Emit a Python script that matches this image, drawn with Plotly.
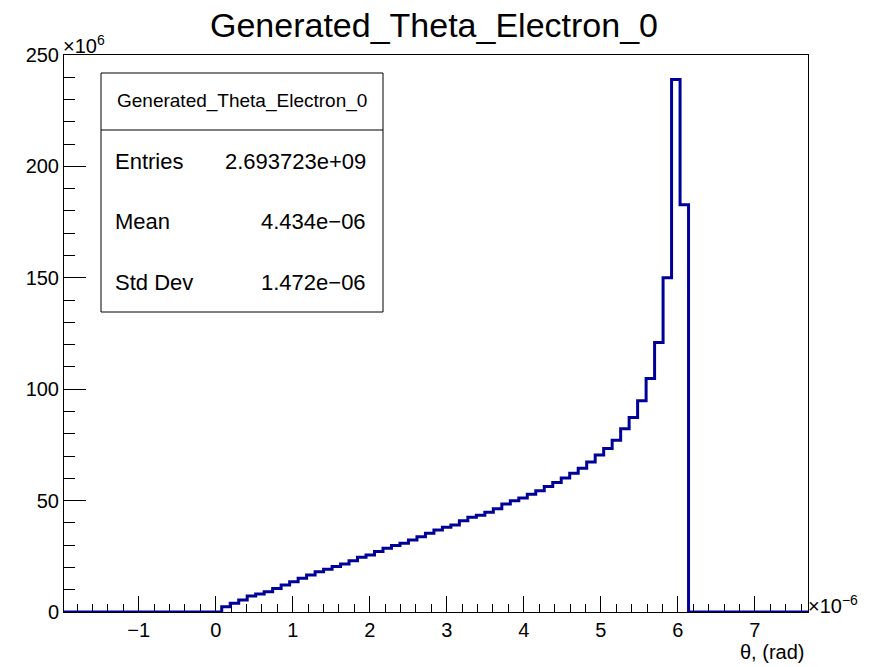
import plotly.graph_objects as go

# ---- data (x in units of 1e-6 rad, counts in units of 1e6) ----
X_RANGE = [-1.97, 7.69]
BIN_LOW = 0.078          # low edge of first filled bin
BIN_WIDTH = 0.1102
COUNTS = [2.4, 3.9, 5.4, 7.2, 8.1, 9.1, 10.6, 12.1, 13.6, 15.1,
          16.6, 18.1, 19.2, 20.4, 21.6, 23.0, 24.6, 25.6, 27.1, 28.6,
          29.8, 30.9, 32.3, 33.8, 35.4, 36.8, 38.0, 39.1, 41.0, 42.5,
          43.4, 44.8, 46.3, 48.5, 49.9, 51.2, 52.9, 54.4, 56.3, 58.1,
          60.1, 62.3, 64.5, 67.3, 70.5, 73.4, 77.1, 82.3, 87.3, 94.8,
          104.8, 121.0, 150.0, 239.0, 182.8]
X_TICKS = [-1, 0, 1, 2, 3, 4, 5, 6, 7]
Y_TICKS = [0, 50, 100, 150, 200, 250]
TITLE = "Generated_Theta_Electron_0"
STATS = [("Entries", "2.693723e+09"), ("Mean", "4.434e\u221206"), ("Std Dev", "1.472e\u221206")]

edges = [BIN_LOW + k * BIN_WIDTH for k in range(len(COUNTS) + 1)]
xs = [X_RANGE[0]] + edges + [X_RANGE[1]]
ys = [0] + COUNTS + [0, 0]

W, H = 875, 667
L, R, T, B = 64, 808, 55, 612
FONT = "Liberation Sans, Arial, Helvetica, sans-serif"


def px(x):
    return (x - L) / (R - L)


def py(y):
    return (B - y) / (B - T)


fig = go.Figure()
fig.add_trace(go.Scatter(x=xs, y=ys, mode="lines", line=dict(color="#000099", width=3, shape="hv"),
                         hoverinfo="skip", showlegend=False))

fig.update_layout(
    width=W, height=H, autosize=False,
    margin=dict(l=L, r=W - R, t=T, b=H - B, pad=0),
    paper_bgcolor="white", plot_bgcolor="white",
    font=dict(family=FONT, size=20, color="black"),
    xaxis=dict(range=X_RANGE, showgrid=False, zeroline=False, showline=True, linecolor="black",
               linewidth=1, mirror=True, ticks="inside", ticklen=16, tickcolor="black",
               tickvals=X_TICKS, ticktext=[str(v).replace("-", "\u2212") for v in X_TICKS],
               minor=dict(dtick=0.2, tick0=0, ticks="inside", ticklen=8, tickcolor="black", showgrid=False),
               tickfont=dict(size=20), layer="below traces"),
    yaxis=dict(range=[0, 250], showgrid=False, zeroline=False, showline=True, linecolor="black",
               linewidth=1, mirror=True, ticks="inside", ticklen=22, tickcolor="black",
               tickvals=Y_TICKS, ticktext=[str(v) for v in Y_TICKS],
               minor=dict(dtick=10, tick0=0, ticks="inside", ticklen=11, tickcolor="black", showgrid=False),
               tickfont=dict(size=20), layer="below traces"),
)

ann = []
ann.append(dict(text=TITLE, x=px(434), y=py(25), xref="paper", yref="paper", showarrow=False,
                xanchor="center", yanchor="middle", font=dict(size=34)))
ann.append(dict(text="\u00d710<sup>6</sup>", x=px(61), y=py(45), xref="paper", yref="paper", showarrow=False,
                xanchor="left", yanchor="middle", font=dict(size=20)))
ann.append(dict(text="\u00d710<sup>\u22126</sup>", x=px(806), y=py(604), xref="paper", yref="paper",
                showarrow=False, xanchor="left", yanchor="middle", font=dict(size=20)))
ann.append(dict(text="\u03b8, (rad)", x=px(806), y=py(652), xref="paper", yref="paper", showarrow=False,
                xanchor="right", yanchor="middle", font=dict(size=20)))

# stats box
bx0, bx1, by0, by1, bdiv = 101, 383, 73, 312, 130
shapes = [
    dict(type="rect", xref="paper", yref="paper", x0=px(bx0), x1=px(bx1), y0=py(by0), y1=py(by1),
         line=dict(color="black", width=1), fillcolor="white", layer="above"),
    dict(type="line", xref="paper", yref="paper", x0=px(bx0), x1=px(bx1), y0=py(bdiv), y1=py(bdiv),
         line=dict(color="black", width=1), layer="above"),
]
ann.append(dict(text=TITLE, x=px(242), y=py(101), xref="paper", yref="paper", showarrow=False,
                xanchor="center", yanchor="middle", font=dict(size=19)))
for i, (lab, val) in enumerate(STATS):
    yy = 161 + i * 60.5
    ann.append(dict(text=lab, x=px(113), y=py(yy), xref="paper", yref="paper", showarrow=False,
                    xanchor="left", yanchor="middle", font=dict(size=22)))
    ann.append(dict(text=val, x=px(368), y=py(yy), xref="paper", yref="paper", showarrow=False,
                    xanchor="right", yanchor="middle", font=dict(size=22)))

fig.update_layout(annotations=ann, shapes=shapes)
fig.write_html("out.html")
